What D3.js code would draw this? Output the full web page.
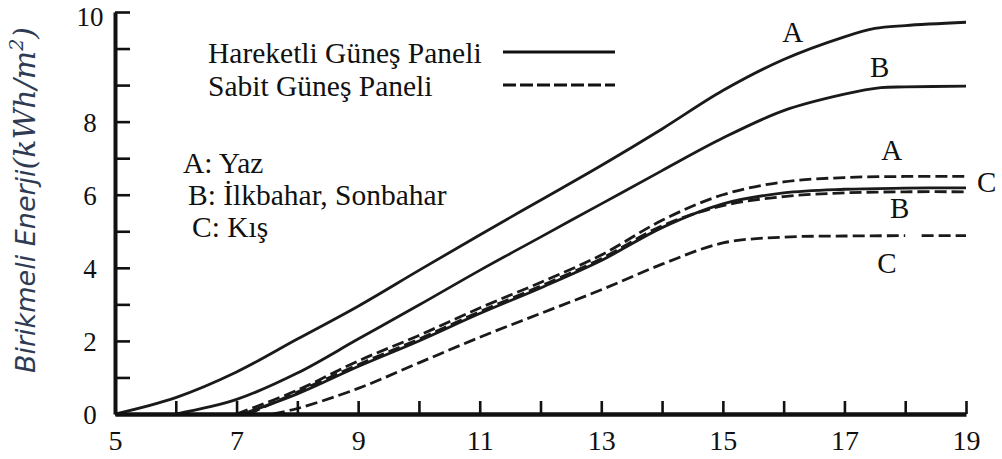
<!DOCTYPE html>
<html>
<head>
<meta charset="utf-8">
<script src="https://cdn.jsdelivr.net/npm/d3@7/dist/d3.min.js"></script>
<style>
  html, body { margin: 0; padding: 0; background: #fff; }
  svg { display: block; }
  text { font-family: "Liberation Serif", "Times New Roman", serif; fill: #111; }
</style>
</head>
<body>
<svg id="chart" width="1002" height="459"></svg>
<script>
// ---- data ----
const xTicks = [5,6,7,8,9,10,11,12,13,14,15,16,17,18,19];
const xTickLabels = ["5","","7","","9","","11","","13","","15","","17","","19"];
const yTicks = [0,1,2,3,4,5,6,7,8,9,10,11];
const yTickLabels = ["0","","2","","4","","6","","8","","","10"];

const hareketliYaz   = [[5,0],[6,0.45],[7,1.15],[8,2.05],[9,2.95],[10,3.93],[11,4.9],[12,5.85],[13,6.8],[14,7.8],[15,8.85],[16,9.7],[17,10.32],[17.5,10.55],[18,10.63],[19,10.72]];
const hareketliBahar = [[6,0],[7,0.4],[8,1.12],[9,2.05],[10,2.98],[11,3.93],[12,4.84],[13,5.75],[14,6.66],[15,7.55],[16,8.3],[17,8.75],[17.6,8.93],[18,8.95],[19,8.97]];
const hareketliKis   = [[7.1,0],[8,0.55],[9,1.3],[10,2.0],[11,2.75],[12,3.45],[13,4.2],[14,5.1],[15,5.75],[16,6.05],[17,6.15],[18,6.18],[19,6.19]];
const sabitYaz       = [[7,0],[8,0.65],[9,1.45],[10,2.15],[11,2.9],[12,3.6],[13,4.35],[14,5.3],[15,6.0],[16,6.35],[17,6.47],[18,6.5],[19,6.5]];
const sabitBahar     = [[7.2,0],[8,0.6],[9,1.35],[10,2.05],[11,2.8],[12,3.5],[13,4.25],[14,5.15],[15,5.7],[16,5.95],[17,6.05],[18,6.08],[19,6.08]];
const sabitKis       = [[7.6,0],[8,0.15],[9,0.7],[10,1.4],[11,2.1],[12,2.75],[13,3.4],[14,4.1],[15,4.68],[16,4.84],[17,4.87],[18,4.88],[18.1,null],[18.27,4.88],[19,4.88]];

const seriesList = [
  {data: hareketliYaz, dashed: false},
  {data: hareketliBahar, dashed: false},
  {data: hareketliKis, dashed: false},
  {data: sabitYaz, dashed: true},
  {data: sabitBahar, dashed: true},
  {data: sabitKis, dashed: true}
];

const curveLabels = [
  {t: "A", x: 16.15, y: 10.45},
  {t: "B", x: 17.58, y: 9.49},
  {t: "A", x: 17.78, y: 7.22},
  {t: "C", x: 19.34, y: 6.35},
  {t: "B", x: 17.91, y: 5.64},
  {t: "C", x: 17.7, y: 4.13}
];
const seasonNotes = ["A: Yaz", "B: İlkbahar, Sonbahar", "C: Kış"];
const legendItems = [
  {t: "Hareketli Güneş Paneli", dashed: false},
  {t: "Sabit Güneş Paneli", dashed: true}
];

// ---- drawing ----
const svg = d3.select("#chart");
const x = d3.scaleLinear().domain([5, 19]).range([115, 966]);
const y = d3.scaleLinear().domain([0, 11]).range([414, 12]);

const line = d3.line()
  .defined(d => d[1] !== null)
  .x(d => x(d[0])).y(d => y(d[1]))
  .curve(d3.curveCatmullRom.alpha(0.5));

svg.append("g").selectAll("path").data(seriesList).join("path")
  .attr("d", d => line(d.data))
  .attr("fill", "none")
  .attr("stroke", "#1a1a1a")
  .attr("stroke-width", 2.8)
  .attr("stroke-dasharray", d => d.dashed ? "12,5" : null);

// axes
const xAxis = d3.axisBottom(x).tickValues(xTicks).tickSize(-13).tickSizeOuter(0)
  .tickFormat((d,i) => xTickLabels[i]);
const gx = svg.append("g").attr("transform", `translate(0,${y(0)})`).call(xAxis);
gx.select(".domain").attr("stroke", "#111").attr("stroke-width", 4.5);
gx.selectAll(".tick line").attr("stroke", "#111").attr("stroke-width", 2.6);
gx.selectAll(".tick text").attr("y", 36).attr("dy", 0)
  .style("font-size", "28px").style("font-family", "Liberation Serif").attr("fill", "#111");

const yAxis = d3.axisLeft(y).tickValues(yTicks).tickSize(-15).tickSizeOuter(0)
  .tickFormat((d,i) => yTickLabels[i]);
const gy = svg.append("g").attr("transform", `translate(${x(5)},0)`).call(yAxis);
gy.select(".domain").attr("stroke", "#111").attr("stroke-width", 4);
gy.selectAll(".tick line").attr("stroke", "#111").attr("stroke-width", 2.6);
gy.selectAll(".tick text").attr("x", -25).attr("dy", "0.35em").attr("text-anchor", "middle")
  .style("font-size", "27px").style("font-family", "Liberation Serif").attr("fill", "#111");
gy.selectAll(".tick").filter(d => d === 11).select("text").attr("dy", "0.5em");

// y-axis title
const yt = svg.append("text")
  .attr("transform", `translate(35,200) rotate(-90)`)
  .attr("text-anchor", "middle")
  .style("font-style", "italic")
  .attr("fill", "#2f3b52");
yt.append("tspan").text("Birikmeli Enerji").style("font-family", "DejaVu Sans").style("font-size", "27px").attr("fill", "#2f3b52");
yt.append("tspan").text("(kWh/m").style("font-family", "DejaVu Serif").style("font-size", "30px").attr("fill", "#2f3b52");
yt.append("tspan").text("2").attr("dy", -12).style("font-family", "DejaVu Serif").style("font-size", "19px").attr("fill", "#2f3b52");
yt.append("tspan").text(")").attr("dy", 12).style("font-family", "DejaVu Serif").style("font-size", "30px").attr("fill", "#2f3b52");

// legend
const lg = svg.append("g");
legendItems.forEach((d, i) => {
  const by = 63 + i * 33;
  lg.append("text").attr("x", 208).attr("y", by).text(d.t).style("font-size", "29.5px");
  lg.append("line").attr("x1", 503).attr("x2", 615).attr("y1", by - 11).attr("y2", by - 11)
    .attr("stroke", "#111").attr("stroke-width", 3.2)
    .attr("stroke-dasharray", d.dashed ? "13,4" : null);
});

// season notes
const noteX = [183, 188, 192];
svg.append("g").selectAll("text").data(seasonNotes).join("text")
  .attr("x", (d, i) => noteX[i]).attr("y", (d, i) => 173 + i * 32)
  .text(d => d).style("font-size", "29.5px");

// curve labels
svg.append("g").selectAll("text").data(curveLabels).join("text")
  .attr("x", d => x(d.x)).attr("y", d => y(d.y))
  .attr("text-anchor", "middle").attr("dy", "0.35em")
  .text(d => d.t).style("font-size", "29px");
</script>
</body>
</html>
